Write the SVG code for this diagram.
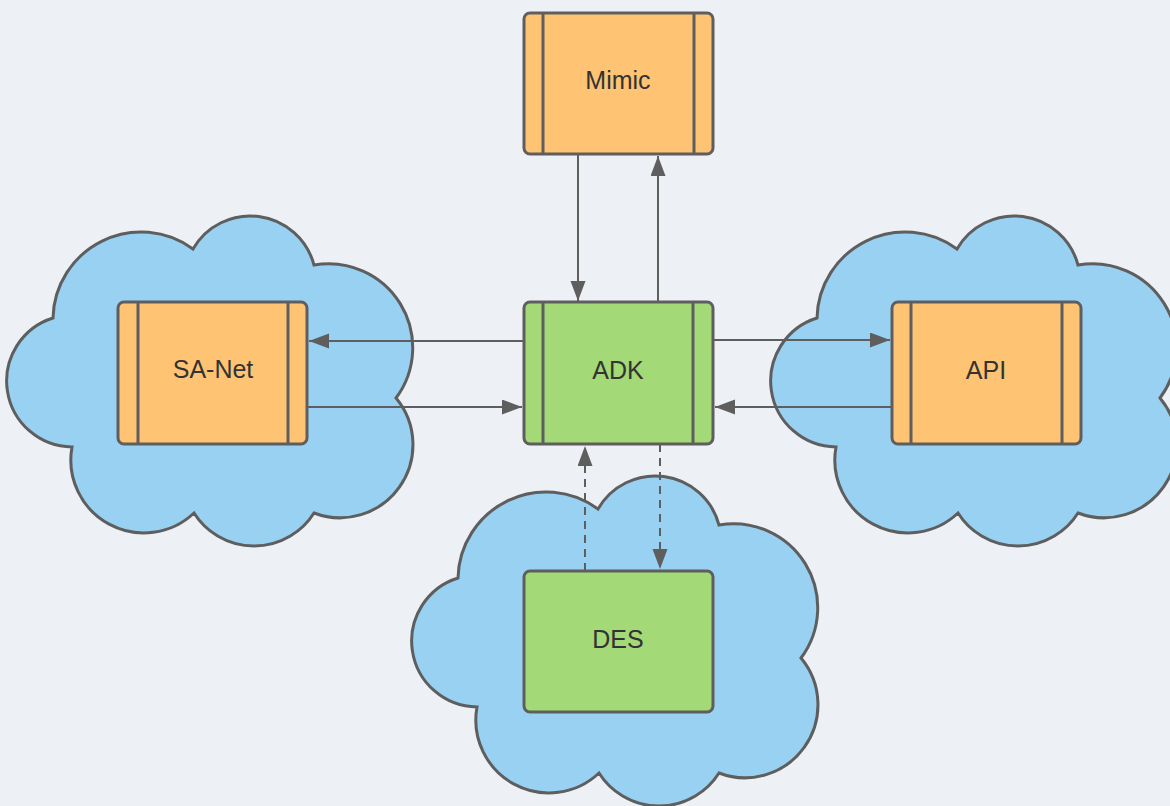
<svg xmlns="http://www.w3.org/2000/svg" width="1170" height="806" viewBox="0 0 1170 806">
  <defs>
    <style>
      .cloud { fill: #99d1f2; stroke: #5e5e5e; stroke-width: 3; }
      .box { stroke: #5e5e5e; stroke-width: 3; }
      .orange { fill: #ffc374; }
      .green { fill: #a3d977; }
      .bar { stroke: #5e5e5e; stroke-width: 3; fill: none; }
      .label { font-family: "Liberation Sans", Arial, sans-serif; font-size: 25px; fill: #333333; text-anchor: middle; }
      .conn { stroke: #5e5e5e; stroke-width: 2; fill: none; marker-end: url(#arrow); }
      .dashed { stroke-dasharray: 8 6; }
    </style>
    <marker id="arrow" markerUnits="userSpaceOnUse" markerWidth="21" markerHeight="16" refX="20" refY="7.5" orient="auto">
      <path d="M0,0 L20,7.5 L0,15 Z" fill="#5e5e5e"/>
    </marker>
    <path id="cloudShape" d="M45,101 A88,88 0 0 1 185,32 A66,66 0 0 1 306,48 A84,84 0 0 1 388,181 A73,73 0 0 1 306,296 A71,71 0 0 1 186,296 A73,73 0 0 1 64,230 A66,66 0 0 1 45,101 Z"/>
  </defs>
  <rect x="0" y="0" width="1170" height="806" fill="#edf0f5"/>

  <g id="cloud-left"><use href="#cloudShape" class="cloud" transform="translate(8,217)"/></g>
  <g id="cloud-right"><use href="#cloudShape" class="cloud" transform="translate(772,217)"/></g>
  <g id="cloud-bottom"><use href="#cloudShape" class="cloud" transform="translate(413,477)"/></g>

  <g id="connectors">
    <line class="conn" x1="578" y1="155" x2="578" y2="301"/>
    <line class="conn" x1="658" y1="302" x2="658" y2="156"/>
    <line class="conn" x1="523" y1="341" x2="309" y2="341"/>
    <line class="conn" x1="307" y1="407" x2="522" y2="407"/>
    <line class="conn" x1="713" y1="340" x2="890" y2="340"/>
    <line class="conn" x1="892" y1="407" x2="715" y2="407"/>
    <line class="conn dashed" x1="585" y1="571" x2="585" y2="446"/>
    <line class="conn dashed" x1="660" y1="444" x2="660" y2="569"/>
  </g>

  <g id="node-mimic">
    <rect class="box orange" x="524" y="13" width="189" height="141" rx="6"/>
    <line class="bar" x1="543" y1="13" x2="543" y2="154"/>
    <line class="bar" x1="694" y1="13" x2="694" y2="154"/>
    <text class="label" x="618" y="89">Mimic</text>
  </g>

  <g id="node-adk">
    <rect class="box green" x="524" y="302" width="189" height="142" rx="6"/>
    <line class="bar" x1="543" y1="302" x2="543" y2="444"/>
    <line class="bar" x1="693" y1="302" x2="693" y2="444"/>
    <text class="label" x="618" y="379">ADK</text>
  </g>

  <g id="node-sanet">
    <rect class="box orange" x="118" y="302" width="189" height="142" rx="6"/>
    <line class="bar" x1="138" y1="302" x2="138" y2="444"/>
    <line class="bar" x1="288" y1="302" x2="288" y2="444"/>
    <text class="label" x="213" y="378">SA-Net</text>
  </g>

  <g id="node-api">
    <rect class="box orange" x="892" y="302" width="189" height="142" rx="6"/>
    <line class="bar" x1="911" y1="302" x2="911" y2="444"/>
    <line class="bar" x1="1062" y1="302" x2="1062" y2="444"/>
    <text class="label" x="986" y="379">API</text>
  </g>

  <g id="node-des">
    <rect class="box green" x="524" y="571" width="189" height="141" rx="6"/>
    <text class="label" x="618" y="648">DES</text>
  </g>
</svg>
